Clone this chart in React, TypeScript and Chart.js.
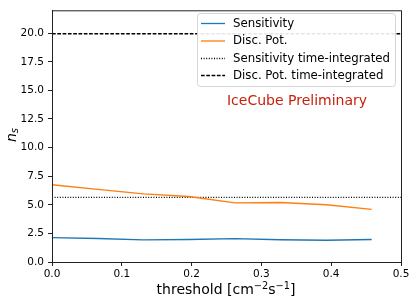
import React, { useEffect, useRef } from "react";
import { Chart, registerables } from "chart.js";

Chart.register(...registerables);

const thresholds = [0, 0.0655, 0.131, 0.196, 0.262, 0.327, 0.393, 0.458];
const sensitivity = [2.13, 2.05, 1.93, 1.97, 2.04, 1.95, 1.9, 1.97];
const discPot = [6.75, 6.35, 5.95, 5.72, 5.17, 5.2, 5.0, 4.6];
const sensitivityTI = 5.65;
const discPotTI = 19.95;
const xTicks = [0, 0.1, 0.2, 0.3, 0.4, 0.5];
const yTicks = [0, 2.5, 5, 7.5, 10, 12.5, 15, 17.5, 20];
const legendLabels = [
  "Sensitivity",
  "Disc. Pot.",
  "Sensitivity time-integrated",
  "Disc. Pot. time-integrated",
];

const FONT = "'DejaVu Sans', sans-serif";
const BLUE = "#1f77b4";
const ORANGE = "#ff7f0e";

const decorPlugin = {
  id: "decor",
  afterDatasetsDraw(chart: any) {
    const { ctx, chartArea } = chart;
    const { left, right, top, bottom } = chartArea;
    ctx.save();
    // frame
    ctx.strokeStyle = "#222";
    ctx.lineWidth = 1;
    ctx.strokeRect(left + 0.5, top + 0.5, right - left, bottom - top);

    // legend box
    const bx = 197.5, by = 13.5, bw = 198, bh = 73;
    const r = 3;
    ctx.beginPath();
    ctx.moveTo(bx + r, by);
    ctx.lineTo(bx + bw - r, by);
    ctx.quadraticCurveTo(bx + bw, by, bx + bw, by + r);
    ctx.lineTo(bx + bw, by + bh - r);
    ctx.quadraticCurveTo(bx + bw, by + bh, bx + bw - r, by + bh);
    ctx.lineTo(bx + r, by + bh);
    ctx.quadraticCurveTo(bx, by + bh, bx, by + bh - r);
    ctx.lineTo(bx, by + r);
    ctx.quadraticCurveTo(bx, by, bx + r, by);
    ctx.closePath();
    ctx.fillStyle = "rgba(255,255,255,0.9)";
    ctx.fill();
    ctx.strokeStyle = "#d6d6d6";
    ctx.stroke();

    const rows = [23, 40.5, 58, 75];
    const styles = [
      { c: BLUE, d: [] as number[] },
      { c: ORANGE, d: [] as number[] },
      { c: "#000", d: [1, 1.6] },
      { c: "#000", d: [3.7, 1.6] },
    ];
    ctx.font = `11.75px ${FONT}`;
    ctx.textBaseline = "middle";
    ctx.textAlign = "left";
    rows.forEach((y, i) => {
      ctx.beginPath();
      ctx.setLineDash(styles[i].d);
      ctx.strokeStyle = styles[i].c;
      ctx.lineWidth = 1.3;
      ctx.moveTo(201, y + 0.5);
      ctx.lineTo(225, y + 0.5);
      ctx.stroke();
      ctx.setLineDash([]);
      ctx.fillStyle = "#000";
      ctx.fillText(legendLabels[i], 233, y + 0.5);
    });

    // IceCube Preliminary
    ctx.font = `14px ${FONT}`;
    ctx.fillStyle = "#c8200e";
    ctx.textAlign = "center";
    ctx.fillText("IceCube Preliminary", 297, 101);

    // x title with superscripts
    ctx.fillStyle = "#000";
    ctx.textAlign = "left";
    ctx.textBaseline = "alphabetic";
    const parts: [string, boolean][] = [
      ["threshold [cm", false],
      ["\u22122", true],
      ["s", false],
      ["\u22121", true],
      ["]", false],
    ];
    const fontFor = (sup: boolean) => (sup ? `9.8px ${FONT}` : `14px ${FONT}`);
    let total = 0;
    parts.forEach(([t, sup]) => {
      ctx.font = fontFor(sup);
      total += ctx.measureText(t).width;
    });
    let cx = 226 - total / 2;
    const baseY = 294;
    parts.forEach(([t, sup]) => {
      ctx.font = fontFor(sup);
      ctx.fillText(t, cx, sup ? baseY - 5.5 : baseY);
      cx += ctx.measureText(t).width;
    });

    // y title n_s
    ctx.textBaseline = "middle";
    ctx.translate(12, 136);
    ctx.rotate(-Math.PI / 2);
    ctx.font = `italic 14px ${FONT}`;
    const nw = ctx.measureText("n").width;
    ctx.fillText("n", -6, 0);
    ctx.font = `italic 10px ${FONT}`;
    ctx.fillText("s", -6 + nw, 3);
    ctx.restore();
  },
};

export default function App() {
  const ref = useRef<HTMLCanvasElement>(null);
  useEffect(() => {
    if (!ref.current) return;
    const hline = (v: number) => [
      { x: 0, y: v },
      { x: 0.5, y: v },
    ];
    const chart = new Chart(ref.current, {
      type: "line",
      data: {
        datasets: [
          {
            label: legendLabels[0],
            data: thresholds.map((t, i) => ({ x: t, y: sensitivity[i] })),
            borderColor: BLUE,
            borderWidth: 1.4,
            pointRadius: 0,
          },
          {
            label: legendLabels[1],
            data: thresholds.map((t, i) => ({ x: t, y: discPot[i] })),
            borderColor: ORANGE,
            borderWidth: 1.4,
            pointRadius: 0,
          },
          {
            label: legendLabels[2],
            data: hline(sensitivityTI),
            borderColor: "#000",
            borderWidth: 1.3,
            borderDash: [1, 1.6],
            pointRadius: 0,
          },
          {
            label: legendLabels[3],
            data: hline(discPotTI),
            borderColor: "#000",
            borderWidth: 1.3,
            borderDash: [3.7, 1.6],
            pointRadius: 0,
          },
        ],
      },
      options: {
        animation: false,
        responsive: false,
        devicePixelRatio: 1,
        layout: { padding: { left: 0, top: 8, right: 14, bottom: 0 } },
        plugins: { legend: { display: false }, tooltip: { enabled: false } },
        scales: {
          x: {
            type: "linear",
            min: 0,
            max: 0.5,
            afterFit: (s: any) => {
              s.height = 41;
            },
            afterBuildTicks: (s: any) => {
              s.ticks = xTicks.map((v) => ({ value: v }));
            },
            grid: {
              drawOnChartArea: false,
              drawTicks: true,
              tickLength: 4,
              color: "#222",
            },
            border: { display: true, color: "#222" },
            ticks: {
              color: "#000",
              font: { family: FONT, size: 10.5 },
              padding: 2,
              maxRotation: 0,
              callback: (v: any) => Number(v).toFixed(1),
            },
          },
          y: {
            type: "linear",
            min: 0,
            max: 22,
            afterFit: (s: any) => {
              s.width = 52;
            },
            afterBuildTicks: (s: any) => {
              s.ticks = yTicks.map((v) => ({ value: v }));
            },
            grid: {
              drawOnChartArea: false,
              drawTicks: true,
              tickLength: 4,
              color: "#222",
            },
            border: { display: true, color: "#222" },
            ticks: {
              color: "#000",
              font: { family: FONT, size: 10.5 },
              padding: 4,
              callback: (v: any) => Number(v).toFixed(1),
            },
          },
        },
      },
      plugins: [decorPlugin],
    });
    return () => chart.destroy();
  }, []);
  return (
    <div style={{ position: "absolute", left: 0, top: 0, width: 415, height: 303, background: "#fff" }}>
      <canvas ref={ref} width={415} height={303} />
    </div>
  );
}
